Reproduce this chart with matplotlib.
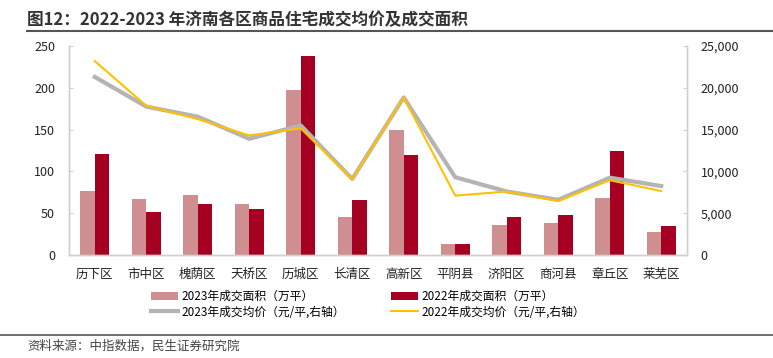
import numpy as np
import matplotlib.pyplot as plt
from matplotlib.lines import Line2D

plt.rcParams['font.family'] = ['Noto Sans CJK SC', 'DejaVu Sans']

districts = ['历下区', '市中区', '槐荫区', '天桥区', '历城区', '长清区',
             '高新区', '平阴县', '济阳区', '商河县', '章丘区', '莱芜区']
area_2023 = [77, 67, 72, 61, 197, 46, 149, 13, 36, 38, 68, 28]
area_2022 = [121, 52, 61, 55, 238, 66, 120, 13, 46, 48, 124, 35]
price_2023 = [21300, 17750, 16550, 13900, 15500, 9100, 18850, 9300, 7600, 6600, 9250, 8250]
price_2022 = [23200, 17850, 16250, 14300, 15150, 9050, 18850, 7100, 7600, 6450, 8950, 7650]

c_light = '#CF8E8F'
c_dark = '#A50021'
c_gray = '#B4B4B4'
c_yellow = '#FFC000'
spine_c = '#D0D0D0'

fig = plt.figure(figsize=(7.73, 3.58), dpi=100)
ax = fig.add_axes([0.0893, 0.2877, 0.7994, 0.5838])
ax2 = ax.twinx()

x = np.arange(len(districts))
w = 0.28
ax.bar(x - w / 2, area_2023, w, color=c_light, label='2023年成交面积（万平）', zorder=2)
ax.bar(x + w / 2, area_2022, w, color=c_dark, label='2022年成交面积（万平）', zorder=2)
ax2.plot(x, price_2023, color=c_gray, lw=3, label='2023年成交均价（元/平,右轴）')
ax2.plot(x, price_2022, color=c_yellow, lw=1.5, label='2022年成交均价（元/平,右轴）')

ax.set_xlim(-0.5, len(districts) - 0.5)
ax.set_ylim(0, 250)
ax.set_yticks(range(0, 251, 50))
ax2.set_ylim(0, 25000)
ax2.set_yticks(range(0, 25001, 5000))
ax2.set_yticklabels([f'{v:,}' for v in range(0, 25001, 5000)])
ax.set_xticks(x)
ax.set_xticklabels(districts)

for a in (ax, ax2):
    a.spines['top'].set_visible(False)
    for s in ('left', 'right', 'bottom'):
        a.spines[s].set_color(spine_c)
        a.spines[s].set_linewidth(1)
    a.tick_params(axis='y', direction='in', length=3, color=spine_c,
                  labelsize=9, labelcolor='#222222', pad=10)
ax.tick_params(axis='x', length=0, labelsize=9, labelcolor='#222222', pad=9)

h1, l1 = ax.get_legend_handles_labels()
h2, l2 = ax2.get_legend_handles_labels()
handles = [h1[0], h2[0], h1[1], h2[1]]
labels = [l1[0], l2[0], l1[1], l2[1]]
fig.legend(handles, labels, ncol=2, loc='upper left', bbox_to_anchor=(151 / 773, 1 - 290 / 358),
           frameon=False, fontsize=8.5, handlelength=2.3, handleheight=0.6,
           columnspacing=3.9, labelspacing=0.2, handletextpad=0.3,
           borderpad=0, borderaxespad=0)

fig.text(0.035, 0.945, '图12：2022-2023 年济南各区商品住宅成交均价及成交面积',
         fontsize=12, fontweight='bold', color='#333333', va='center')
fig.add_artist(Line2D([0.035, 1.0], [0.913, 0.913], color='#555555', lw=1.5))
fig.add_artist(Line2D([0.0, 1.0], [0.064, 0.064], color='#555555', lw=1.2))
fig.text(0.035, 0.033, '资料来源：中指数据，民生证券研究院', fontsize=9,
         color='#444444', va='center')

fig.savefig('out.png', dpi=100)
